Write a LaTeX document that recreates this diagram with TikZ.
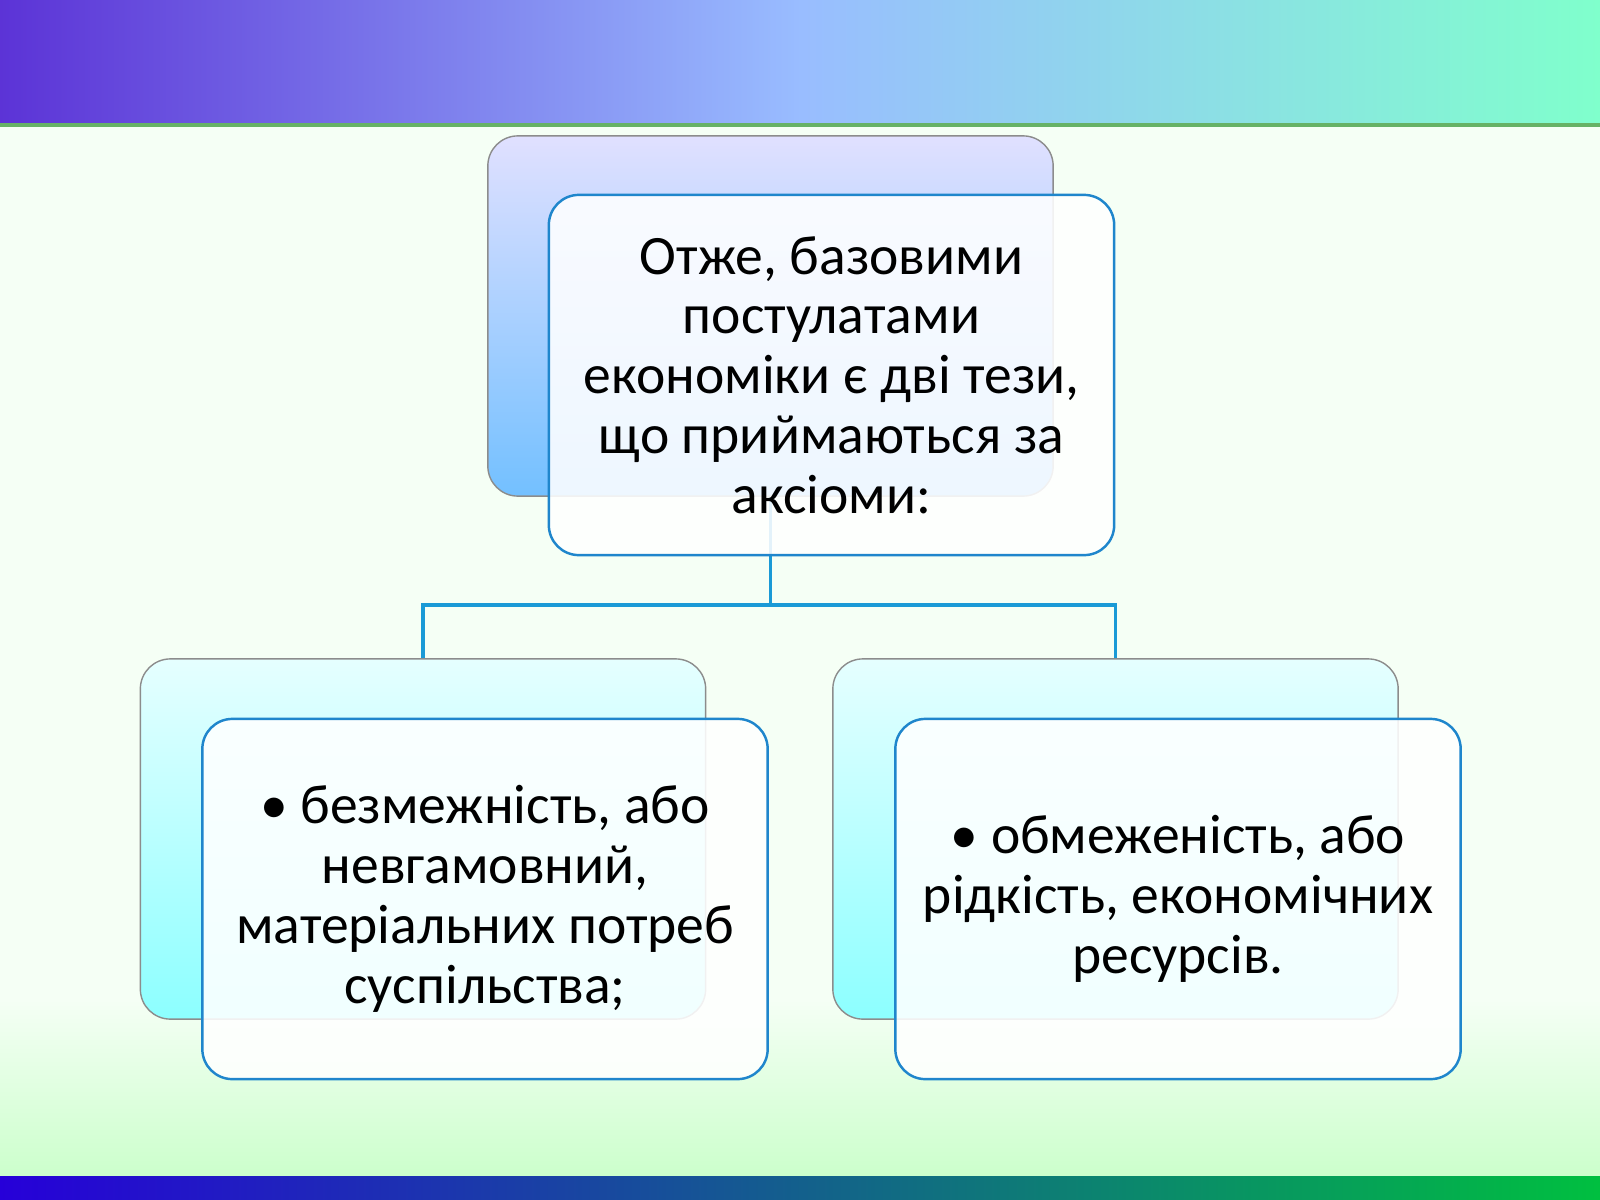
\documentclass[tikz,border=0pt]{standalone}
\usepackage{fontspec}
\setmainfont{Carlito}
\usetikzlibrary{positioning}
\definecolor{edgeblue}{HTML}{1F86CC}
\definecolor{linkblue}{HTML}{1A9AD6}
\begin{document}
\begin{tikzpicture}[x=0.01cm,y=-0.01cm]
\tikzstyle{backbox} = [
  draw = black!45,
  rounded corners=30pt*0.2845,
  minimum width=5.65cm,
  minimum height=3.6cm
]
\tikzstyle{frontbox} = [
  draw = edgeblue, line width=0.7pt,
  fill = white, fill opacity=0.88, text opacity=1,
  rounded corners=30pt*0.2845,
  minimum width=5.65cm,
  minimum height=3.6cm,
  align=center,
  font=\fontsize{15.8}{17}\selectfont
]
\tikzstyle{link} = [
  draw = linkblue, line width=1.1pt
]

% background
\useasboundingbox (0,0) rectangle (1600,1200);
\fill[green!4] (0,0) rectangle (1600,1200);
\shade[left color=blue!60!violet!80, right color=green!40!cyan!50, middle color=cyan!35!blue!40] (0,0) rectangle (1600,125);
\fill[green!50!black!60] (0,123) rectangle (1600,127);
\shade[left color=blue!70!violet, right color=green!50!teal] (0,1175) rectangle (1600,1200);
\shade[bottom color=green!20, top color=green!4] (0,1000) rectangle (1600,1175);

% back boxes
\node [backbox, top color=blue!12, bottom color=blue!45!cyan!55] (topback) at (770.5,316) {};
\node [backbox, top color=cyan!10, bottom color=cyan!45] (leftback) at (423,839) {};
\node [backbox, top color=cyan!10, bottom color=cyan!45] (rightback) at (1115.5,839) {};

% links
\coordinate (fork) at (770.5,605);
\draw[link] (topback.south) -- (fork);
\draw[link] (leftback.north) |- (fork) -| (rightback.north);

% front boxes
\node [frontbox] (topfront) at (831.5,375) {Отже, базовими\\постулатами\\економіки є дві тези,\\що приймаються за\\аксіоми:};
\node [frontbox] (leftfront) at (485,899) {• безмежність, або\\невгамовний,\\матеріальних потреб\\суспільства;};
\node [frontbox] (rightfront) at (1178,899) {• обмеженість, або\\рідкість, економічних\\ресурсів.};

\end{tikzpicture}
\end{document}
